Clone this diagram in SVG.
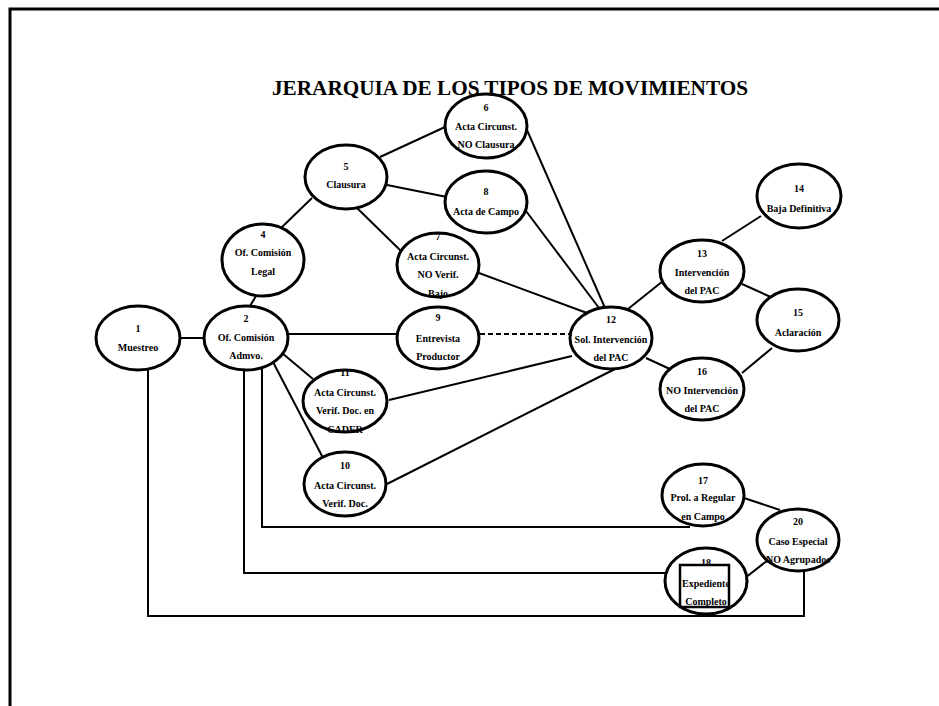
<svg xmlns="http://www.w3.org/2000/svg" width="939" height="706" viewBox="0 0 939 706">
<style>
.n ellipse{fill:#fff;stroke:#000;stroke-width:3}
.n rect{fill:none;stroke:#000;stroke-width:2.5}
.n text{font-family:"Liberation Serif","Times New Roman",serif;font-weight:bold;font-size:10px;text-anchor:middle;fill:#000}
.c line,.c polyline{stroke:#000;stroke-width:2;fill:none}
.d{stroke-dasharray:5 3}
.title{font-family:"Liberation Serif","Times New Roman",serif;font-weight:bold;font-size:20px;fill:#000}
</style>
<rect width="939" height="706" fill="#fff"/>
<polyline points="10,706 10,9 939,9" fill="none" stroke="#000" stroke-width="3"/>
<text class="title" x="272" y="95" textLength="476" lengthAdjust="spacingAndGlyphs">JERARQUIA DE LOS TIPOS DE MOVIMIENTOS</text>
<g class="c" id="connectors">
<line x1="180" y1="338" x2="204" y2="338"/>
<line x1="256" y1="296" x2="250" y2="306"/>
<line x1="281" y1="228" x2="312" y2="198"/>
<line x1="380" y1="157" x2="445" y2="127"/>
<line x1="387" y1="185" x2="447" y2="197"/>
<line x1="356" y1="207" x2="401" y2="251"/>
<line x1="527" y1="130" x2="605" y2="308"/>
<line x1="526" y1="211" x2="599" y2="308"/>
<line x1="479" y1="273" x2="587" y2="313"/>
<line x1="288" y1="334" x2="397" y2="334"/>
<line class="d" x1="480" y1="334" x2="570" y2="334"/>
<line x1="282" y1="353" x2="313" y2="379"/>
<line x1="273" y1="362" x2="322" y2="456"/>
<line x1="389" y1="400" x2="572" y2="356"/>
<line x1="387" y1="484" x2="615" y2="369"/>
<line x1="628" y1="309" x2="663" y2="281"/>
<line x1="646" y1="358" x2="672" y2="370"/>
<line x1="722" y1="241" x2="761" y2="216"/>
<line x1="742" y1="284" x2="773" y2="298"/>
<line x1="772" y1="348" x2="742" y2="373"/>
<line x1="744" y1="498" x2="780" y2="510"/>
<line x1="745" y1="578" x2="768" y2="560"/>
<polyline points="262,368 262,527 690,527"/>
<polyline points="244,370 244,573 667,573"/>
<polyline points="148,369 148,616 804,616 804,571"/>
</g>
<g class="n" id="node1"><ellipse cx="138" cy="338" rx="42" ry="32"/><text x="138" y="332">1</text><text x="138" y="351">Muestreo</text></g>
<g class="n" id="node2"><ellipse cx="246" cy="338" rx="42" ry="32"/><text x="246" y="322">2</text><text x="246" y="341">Of. Comisión</text><text x="246" y="359">Admvo.</text></g>
<g class="n" id="node4"><ellipse cx="263" cy="260" rx="41" ry="36"/><text x="263" y="238">4</text><text x="263" y="256">Of. Comisión</text><text x="263" y="275">Legal</text></g>
<g class="n" id="node5"><ellipse cx="346" cy="177" rx="41" ry="32"/><text x="346" y="170">5</text><text x="346" y="188">Clausura</text></g>
<g class="n" id="node6"><ellipse cx="486" cy="126" rx="41" ry="32"/><text x="486" y="111">6</text><text x="486" y="130">Acta Circunst.</text><text x="486" y="148">NO Clausura</text></g>
<g class="n" id="node8"><ellipse cx="486" cy="202" rx="41" ry="31"/><text x="486" y="195">8</text><text x="486" y="215">Acta de Campo</text></g>
<g class="n" id="node7"><ellipse cx="438" cy="265" rx="41" ry="32"/><text x="438" y="240">7</text><text x="438" y="260">Acta Circunst.</text><text x="438" y="278">NO Verif.</text><text x="438" y="297">Bajo</text></g>
<g class="n" id="node9"><ellipse cx="438" cy="338" rx="41" ry="31"/><text x="438" y="321">9</text><text x="438" y="342">Entrevista</text><text x="438" y="360">Productor</text></g>
<g class="n" id="node11"><ellipse cx="345" cy="401" rx="42" ry="31"/><text x="345" y="376">11</text><text x="345" y="396">Acta Circunst.</text><text x="345" y="414">Verif. Doc. en</text><text x="345" y="433">CADER</text></g>
<g class="n" id="node10"><ellipse cx="345" cy="484" rx="41" ry="32"/><text x="345" y="469">10</text><text x="345" y="489">Acta Circunst.</text><text x="345" y="507">Verif. Doc.</text></g>
<g class="n" id="node12"><ellipse cx="611" cy="338" rx="41" ry="31"/><text x="611" y="323">12</text><text x="611" y="343">Sol. Intervención</text><text x="611" y="361">del PAC</text></g>
<g class="n" id="node13"><ellipse cx="702" cy="271" rx="42" ry="31"/><text x="702" y="257">13</text><text x="702" y="276">Intervención</text><text x="702" y="294">del PAC</text></g>
<g class="n" id="node14"><ellipse cx="799" cy="196" rx="42" ry="32"/><text x="799" y="192">14</text><text x="799" y="212">Baja Definitiva</text></g>
<g class="n" id="node15"><ellipse cx="798" cy="320" rx="41" ry="31"/><text x="798" y="316">15</text><text x="798" y="336">Aclaración</text></g>
<g class="n" id="node16"><ellipse cx="702" cy="389" rx="42" ry="31"/><text x="702" y="375">16</text><text x="702" y="394">NO Intervención</text><text x="702" y="412">del PAC</text></g>
<g class="n" id="node17"><ellipse cx="703" cy="495" rx="41" ry="31"/><text x="703" y="484">17</text><text x="703" y="501">Prol. a Regular</text><text x="703" y="520">en Campo</text></g>
<g class="n" id="node20"><ellipse cx="798" cy="540" rx="41" ry="31"/><text x="798" y="525">20</text><text x="798" y="545">Caso Especial</text><text x="798" y="563">NO Agrupados</text></g>
<g class="n" id="node18"><ellipse cx="706" cy="581" rx="41" ry="33"/><rect x="680" y="565" width="49" height="42"/><text x="706" y="566">18</text><text x="706" y="587">Expediente</text><text x="706" y="605">Completo</text></g>
</svg>
